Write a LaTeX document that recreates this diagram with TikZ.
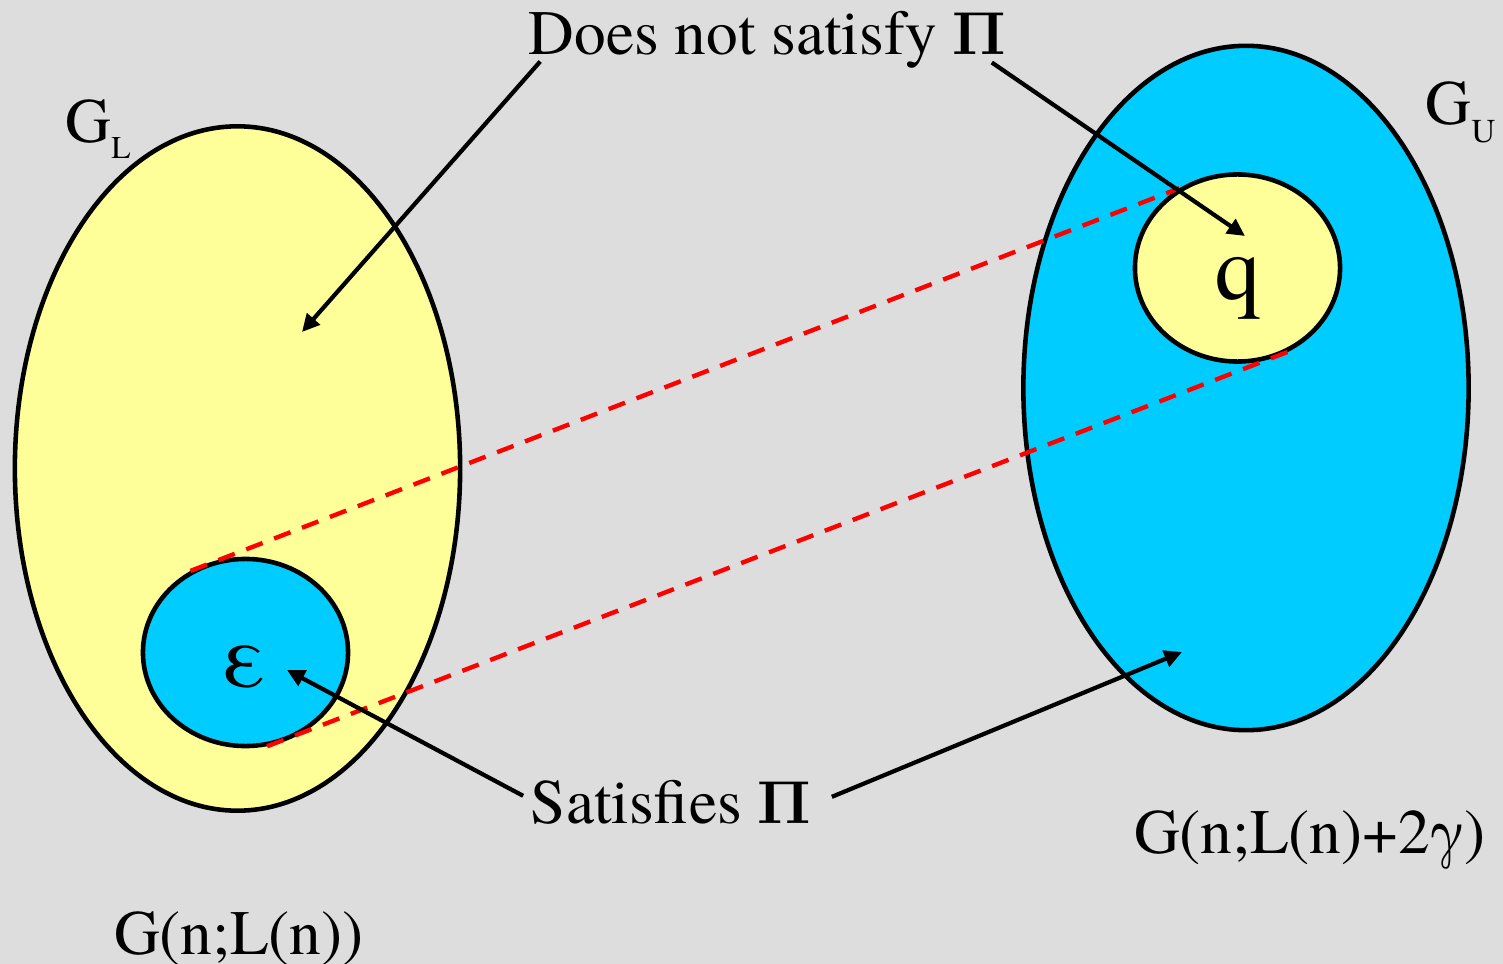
\documentclass[tikz,border=0pt]{standalone}
\usepackage{fontspec}
\setmainfont{TeX Gyre Termes}
\usetikzlibrary{shapes.geometric, arrows.meta}
\definecolor{SlideGray}{HTML}{DDDDDD}
\definecolor{SetYellow}{HTML}{FFFF99}
\definecolor{SetCyan}{HTML}{00CCFF}
\definecolor{LinkRed}{HTML}{FF0000}
\newcommand{\propPi}{{\boldmath$\Pi$}}

\begin{document}
\begin{tikzpicture}[
  x=0.01cm, y=-0.01cm,
  every node/.style={font=\fontsize{18}{20}\selectfont, inner sep=0pt},
  set/.style={ellipse, draw, line width=1.3pt, fill=#1, minimum width=4.45cm, minimum height=6.84cm},
  subset/.style={ellipse, draw, line width=1.3pt, fill=#1, minimum width=2.05cm, minimum height=1.87cm},
  arr/.style={-{Triangle[length=5pt, width=4.8pt]}, line width=1.2pt},
  link/.style={LinkRed, dash pattern=on 5pt off 3.5pt, line width=1.25pt},
  big/.style={font=\fontsize{26}{28}\selectfont},
]
  % Background
  \fill[SlideGray] (0,0) rectangle (1503,964);
  \useasboundingbox (0,0) rectangle (1503,964);

  % Graph spaces
  \node[set=SetYellow] (GL) at (237.5,468.5) {};
  \node[set=SetCyan] (GU) at (1246,388) {};

  % Property sets
  \node[subset=SetCyan] (eps) at (245.5,652.5) {};
  \node[subset=SetYellow] (q) at (1237.5,268) {};
  \node[big, anchor=base] (epsl) at (245,687) {ε};
  \node[big, anchor=base] (ql) at (1238,300) {q};

  % Labels
  \node[anchor=base west] (GLl) at (65,143) {G\raisebox{-4.5pt}{\fontsize{9}{9}\selectfont L}};
  \node[anchor=base west] (GUl) at (1425,125) {G\raisebox{-5pt}{\fontsize{9.5}{9.5}\selectfont U}};
  \node[anchor=base] (GLn) at (239,954) {G(n;L(n))};
  \node[anchor=base] (GUn) at (1310,853) {G(n;L(n)+2γ)};
  \node[anchor=base] (dns) at (767.5,55) {Does not satisfy \propPi};
  \node[anchor=base] (sat) at (671,823) {Satisfies \propPi};

  % Arrow tips
  \coordinate (tipGL) at (302,332);
  \coordinate (tipq) at (1245,236);
  \coordinate (tipeps) at (287,670);
  \coordinate (tipGU) at (1182,652);

  % Correspondence
  \draw[link] (eps.124) -- (q.126.6);
  \draw[link] (eps.283.4) -- (q.302.6);

  % Arrows
  \draw[arr] ([shift={(0.12cm,0.08cm)}]dns.south west) -- (tipGL);
  \draw[arr] ([shift={(-0.15cm,0.07cm)}]dns.south east) -- (tipq);
  \draw[arr] ([shift={(-0.07cm,0.06cm)}]sat.west) -- (tipeps);
  \draw[arr] ([shift={(0.2cm,0.05cm)}]sat.east) -- (tipGU);
\end{tikzpicture}
\end{document}
